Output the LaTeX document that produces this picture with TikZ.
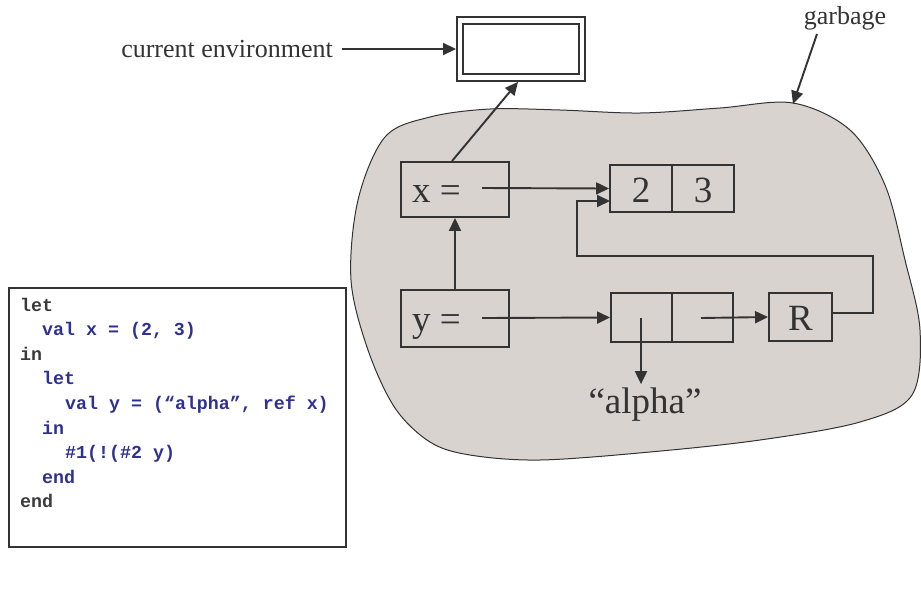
\documentclass[tikz,border=0pt]{standalone}
\usepackage{fontspec}
\setmainfont{Liberation Serif}
\setmonofont{Liberation Mono}
\usetikzlibrary{arrows.meta}
\definecolor{ink}{HTML}{333333}
\definecolor{heapfill}{HTML}{D9D3D0}
\definecolor{codeblue}{HTML}{2E3192}
\definecolor{codegray}{HTML}{3A3A3A}
\begin{document}
\begin{tikzpicture}[x=1pt,y=-1pt,
  box/.style={draw=ink, line width=1.9pt, inner sep=0pt},
  arr/.style={draw=ink, line width=1.9pt, -{Triangle[length=13pt,width=12pt]}},
  lbl/.style={font=\fontsize{26}{30}\selectfont, text=ink, inner sep=0pt},
  big/.style={font=\fontsize{37}{40}\selectfont, text=ink, inner sep=0pt},
  code/.style={font=\ttfamily\bfseries\fontsize{18.3}{20}\selectfont, inner sep=0pt, anchor=base west},
  kw/.style={code, text=codegray},
  cb/.style={code, text=codeblue}]
\useasboundingbox (0,0) rectangle (921,590);

% heap region holding the reachable and unreachable cells
\fill[heapfill, draw=ink, line width=1pt]
  plot[smooth cycle, tension=0.55] coordinates {
    (793,103) (850,130) (885,185) (905,260) (920,330) (912,395)
    (860,422) (760,440) (650,452) (540,460) (470,455) (430,442)
    (395,408) (368,350) (351,280) (358,200) (385,137) (430,117)
    (490,109) (560,110) (640,113) (720,108)};

% current environment frame
\node[box, minimum width=128pt, minimum height=64pt] (env) at (521,49) {};
\node[box, minimum width=116pt, minimum height=50pt] (envin) at (521,49) {};
\node[lbl, anchor=base east, inner xsep=9pt] (cur) at (342,57) {current environment};
\draw[arr] (cur.base east |- env.west) -- (env.west);

% garbage label
\node[lbl, anchor=base] (garb) at (845,24) {garbage};
\coordinate (gfrom) at (817,34);
\coordinate (gto) at (793,104);
\draw[arr] (gfrom) -- (gto);

% binding x
\node[box, minimum width=108pt, minimum height=55pt] (xb) at (455,189.5) {};
\node[big, anchor=base west] (xlab) at (412,202) {x =};
\coordinate (xstart) at (482,188);

% binding y
\node[box, minimum width=108pt, minimum height=57pt] (yb) at (455,318.5) {};
\node[big, anchor=base west] (ylab) at (412,331) {y =};
\coordinate (ystart) at (482,318);

% pair (2, 3)
\node[box, minimum width=62pt, minimum height=47pt] (c2) at (641,188.5) {};
\node[box, minimum width=62pt, minimum height=47pt] (c3) at (703,188.5) {};
\node[big, anchor=base] (n2) at (641,202) {2};
\node[big, anchor=base] (n3) at (703,202) {3};
\coordinate (c2in) at (610,201);

% pair ("alpha", ref x)
\node[box, minimum width=61pt, minimum height=49pt] (pa) at (641.5,317.5) {};
\node[box, minimum width=61pt, minimum height=49pt] (pb) at (702.5,317.5) {};
\coordinate (astart) at (641,318);
\coordinate (bstart) at (701,318);
\node[big, anchor=base, inner sep=3pt] (alpha) at (645,413) {“alpha”};

% ref cell
\node[box, minimum width=63pt, minimum height=48pt] (R) at (800.5,317) {};
\node[big, anchor=base] (rlab) at (800.5,330) {R};
\coordinate (rout) at (832,313);
\coordinate (lp1) at (873,256);
\coordinate (lp2) at (577,256);

% connectors
\draw[arr] ([xshift=-3pt]xb.north) -- ([xshift=-3pt]env.south);
\draw[arr] (yb.north) -- (xb.south);
\draw[arr] (xstart) -- (c2.west);
\draw[arr] (ystart) -- (pa.west);
\draw[arr] (astart) -- (astart |- alpha.north);
\draw[arr] (bstart) -- (R.west);
\draw[arr] (rout) -| (lp1) -- (lp2) |- (c2in);

% program text
\node[box, line width=1.9pt, minimum width=337pt, minimum height=259pt] (prog) at (177.5,417.5) {};
\node[kw] (l1) at (20,311)   {let};
\node[cb] (l2) at (42,335.6) {val x = (2, 3)};
\node[kw] (l3) at (20,360.2) {in};
\node[cb] (l4) at (42,384.8) {let};
\node[cb] (l5) at (65,409.4) {val y = (“alpha”, ref x)};
\node[cb] (l6) at (42,434)   {in};
\node[cb] (l7) at (65,458.6) {\#1(!(\#2 y)};
\node[cb] (l8) at (42,483.2) {end};
\node[kw] (l9) at (20,507.8) {end};
\end{tikzpicture}
\end{document}
